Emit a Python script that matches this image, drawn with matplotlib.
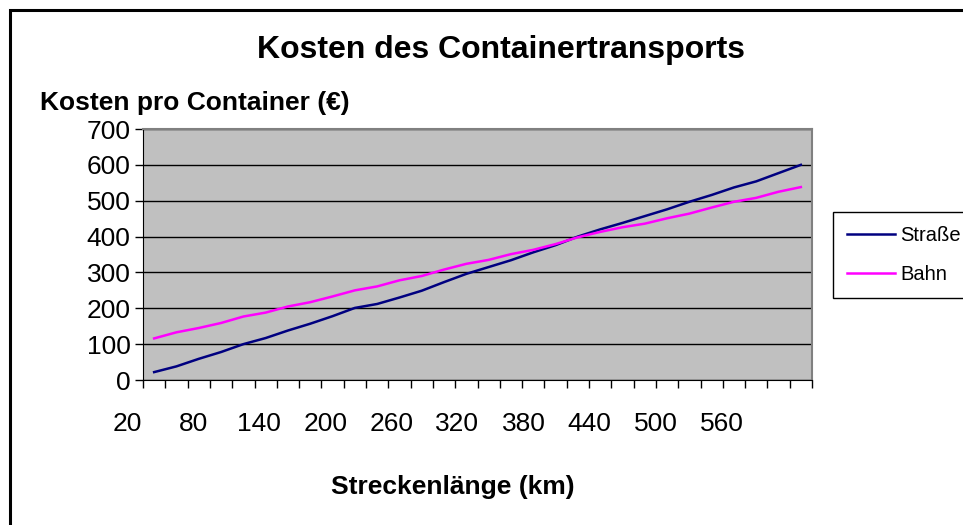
import matplotlib
matplotlib.use("Agg")
import matplotlib.pyplot as plt
import matplotlib.transforms as mtransforms
from matplotlib.patches import Rectangle

plt.rcParams["font.family"] = ["Liberation Sans", "DejaVu Sans"]

# Streckenlänge in km (Kategorien)
strecke = [20, 40, 60, 80, 100, 120, 140, 160, 180, 200,
           220, 240, 260, 280, 300, 320, 340, 360, 380, 400,
           420, 440, 460, 480, 500, 520, 540, 560, 580, 600]
# Kosten pro Container in Euro
strasse = [22, 38, 59, 78, 100, 117, 138, 157, 178, 201,
           212, 230, 249, 273, 296, 315, 334, 356, 376, 400,
           420, 438, 457, 476, 497, 516, 537, 554, 577, 600]
bahn = [116, 133, 145, 159, 177, 188, 205, 217, 233, 250,
        261, 278, 290, 308, 324, 335, 351, 363, 379, 398,
        413, 426, 436, 451, 464, 481, 497, 508, 525, 538]
# Beschriftung der x-Achse (nur jede dritte Kategorie)
x_labels = ["20", "80", "140", "200", "260", "320", "380", "440", "500", "560"]

fig = plt.figure(figsize=(9.63, 5.25), dpi=100)
ax = fig.add_axes([143 / 963, 1 - 380 / 525, 669 / 963, 251 / 525])
ax.set_facecolor("#C0C0C0")

idx = list(range(len(strecke)))
ax.plot(idx, strasse, color="#000080", lw=1.8, label="Straße")
ax.plot(idx, bahn, color="#FF00FF", lw=1.8, label="Bahn")

ax.set_xlim(-0.5, len(strecke) - 0.5)
ax.set_ylim(0, 700)
ax.set_yticks(range(0, 701, 100))
ax.yaxis.grid(True, color="black", lw=1)
ax.set_axisbelow(True)
ax.tick_params(axis="y", direction="out", length=6, width=1, pad=3, labelsize=19)

# Teilstriche zwischen den Kategorien, Beschriftung separat
ax.set_xticks([i - 0.5 for i in range(len(strecke) + 1)])
ax.set_xticklabels([])
ax.tick_params(axis="x", direction="out", length=6, width=1)
trans = mtransforms.blended_transform_factory(ax.transData, ax.transAxes)
for j, lab in enumerate(x_labels):
    ax.text(-1.2 + 2.96 * j, -0.175, lab, transform=trans, ha="center",
            va="center", fontsize=19)

for s in ["left", "bottom"]:
    ax.spines[s].set_color("black")
for s in ["top", "right"]:
    ax.spines[s].set_color("#808080")
    ax.spines[s].set_linewidth(1.5)

fig.text(501 / 963, 1 - 50 / 525, "Kosten des Containertransports",
         ha="center", va="center", fontsize=23, fontweight="bold")
fig.text(40 / 963, 1 - 103 / 525, "Kosten pro Container (€)",
         ha="left", va="center", fontsize=19, fontweight="bold")
fig.text(453 / 963, 1 - 487 / 525, "Streckenlänge (km)",
         ha="center", va="center", fontsize=19, fontweight="bold")

leg = ax.legend(loc="upper left", bbox_to_anchor=(833 / 963, 1 - 212 / 525),
                bbox_transform=fig.transFigure, fontsize=14.5, frameon=True,
                fancybox=False, edgecolor="black", framealpha=1,
                handlelength=2.4, handletextpad=0.25, labelspacing=1.0,
                borderpad=0.7, borderaxespad=0)
leg.get_frame().set_linewidth(1)

# Rahmen um das Diagramm (rechts und unten abgeschnitten)
fig.patches.append(Rectangle((9.5 / 963, -0.1), 1.2, 1 - 9.5 / 525 + 0.1,
                             transform=fig.transFigure, fill=False,
                             edgecolor="black", lw=2.2))

fig.savefig("out.png", dpi=100)
